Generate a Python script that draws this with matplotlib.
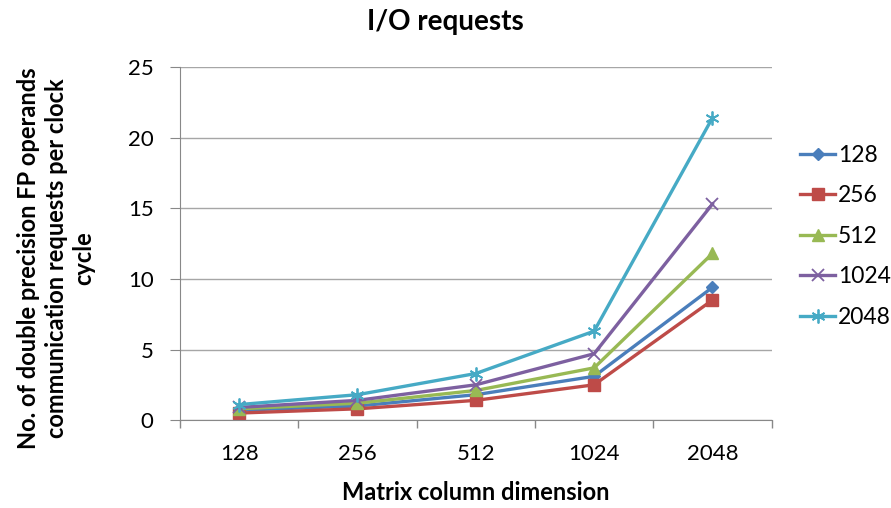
import matplotlib
matplotlib.use("Agg")
import matplotlib.pyplot as plt
import numpy as np

plt.rcParams['font.family'] = ['Lato', 'DejaVu Sans']

categories = ["128", "256", "512", "1024", "2048"]
series_names = ["128", "256", "512", "1024", "2048"]
s128 = [0.7, 1.0, 1.8, 3.1, 9.4]
s256 = [0.5, 0.8, 1.4, 2.5, 8.5]
s512 = [0.8, 1.2, 2.1, 3.7, 11.8]
s1024 = [0.9, 1.4, 2.5, 4.7, 15.3]
s2048 = [1.1, 1.8, 3.3, 6.3, 21.4]
yticks = [0, 5, 10, 15, 20, 25]

colors = ["#4a7ebb", "#be4b48", "#98b954", "#7d60a0", "#46aac5"]
markers = ["D", "s", "^", "x", (6, 2, 0)]
msizes = [6, 8, 8, 9, 10]

fig = plt.figure(figsize=(8.91, 5.08), dpi=100)
ax = fig.add_axes([0.202, 0.173, 0.664, 0.695])

x = np.arange(len(categories))
for name, vals, c, m, ms in zip(series_names, [s128, s256, s512, s1024, s2048], colors, markers, msizes):
    if m == "x" or isinstance(m, tuple):
        ax.plot(x, vals, color=c, lw=2.4, marker=m, ms=ms, mew=1.3, label=name)
    else:
        ax.plot(x, vals, color=c, lw=2.4, marker=m, ms=ms, mec=c, label=name)

ax.set_xlim(-0.5, len(categories) - 0.5)
ax.set_ylim(0, 25)
ax.set_yticks(yticks)
ax.set_xticks(x)
ax.set_xticklabels(categories)
ax.set_xticks(np.arange(-0.5, len(categories) + 0.5, 1), minor=True)
ax.tick_params(axis='x', which='major', length=0, pad=17, labelsize=16)
ax.tick_params(axis='x', which='minor', length=6, color='#888888', width=1)
ax.tick_params(axis='y', length=7, color='#888888', labelsize=16, pad=12)
ax.grid(axis='y', color='#a6a6a6', lw=1)
ax.set_axisbelow(True)
for s in ['top', 'right']:
    ax.spines[s].set_visible(False)
for s in ['left', 'bottom']:
    ax.spines[s].set_color('#888888')

fig.text(0.5, 0.957, "I/O requests", ha='center', va='center', fontsize=20, fontweight='bold')
fig.text(476 / 891, 0.031, "Matrix column dimension", ha='center', va='center', fontsize=17, fontweight='bold')
fig.text(0.063, 0.492, "No. of double precision FP operands\ncommunication requests per clock\ncycle",
         rotation=90, ha='center', va='center', fontsize=17, fontweight='bold', linespacing=1.25)

leg = fig.legend(loc='center left', bbox_to_anchor=(0.888, 0.535), frameon=False, fontsize=16.5,
                 handlelength=1.5, labelspacing=0.85, handletextpad=0.15, borderaxespad=0)

fig.savefig("out.png", dpi=100)
